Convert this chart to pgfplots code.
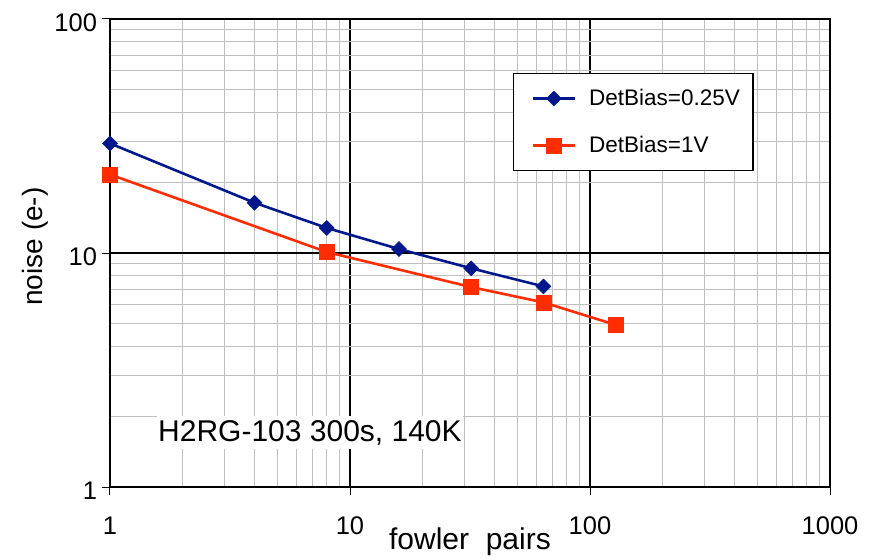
\documentclass[border=0pt]{standalone}
\usepackage{pgfplots}
\pgfplotsset{compat=1.18}
\usepackage{fontspec}
\setmainfont{Liberation Sans}
\definecolor{navyb}{RGB}{0,24,140}
\definecolor{redo}{RGB}{255,45,0}
\begin{document}
\begin{tikzpicture}
\begin{axis}[
  at={(0pt,0pt)}, anchor=south west,
  scale only axis, width=720pt, height=468pt,
  xmode=log, ymode=log,
  xmin=1, xmax=1000, ymin=1, ymax=100,
  xtick={1,10,100,1000}, ytick={1,10,100},
  xticklabels={1,10,100,1000}, yticklabels={1,10,100},
  minor xtick={2,3,4,5,6,7,8,9,20,30,40,50,60,70,80,90,200,300,400,500,600,700,800,900},
  minor ytick={2,3,4,5,6,7,8,9,20,30,40,50,60,70,80,90},
  grid=both,
  major grid style={black, line width=1.3pt},
  minor grid style={black!25, line width=1pt},
  axis line style={line width=2pt},
  tick align=outside,
  tick pos=left,
  major tick length=8pt,
  minor tick length=0pt,
  tick style={black, line width=1pt},
  /pgf/number format/assume math mode=true,
  xticklabel style={font=\fontsize{25.5}{30}\selectfont, anchor=north, yshift=-18pt},
  yticklabel style={font=\fontsize{25.5}{30}\selectfont, anchor=east, yshift=-3.5pt, xshift=-1.5pt},
  xlabel={fowler\ \ pairs},
  ylabel={noise (e-)},
  xlabel style={font=\fontsize{30}{36}\selectfont, at={(axis description cs:0.5,-0.1325)}, anchor=base},
  ylabel style={font=\fontsize{28}{34}\selectfont, at={(axis description cs:-0.0944,0.514)}, anchor=base},
  clip=false,
  legend style={at={(0.5597,0.8846)}, anchor=north west, draw=black, line width=1.2pt,
    font=\fontsize{22.5}{27}\selectfont, inner xsep=13pt, inner ysep=16pt,
    row sep=29pt, column sep=0pt, nodes={inner sep=0pt}},
  legend cell align=left,
  legend image code/.code={
    \path (-5pt,0pt) (55pt,0pt);
    \draw[mark repeat=2, mark phase=2] plot coordinates {(0pt,0pt) (21pt,0pt) (42pt,0pt)};
  },
]
\addplot[navyb, line width=2.6pt, mark=square*, mark size=5.3pt, mark options={rotate=45, solid, line width=0.5pt}]
  coordinates {(1,29.4) (4,16.4) (8,12.8) (16,10.4) (32,8.6) (64,7.2)};
\addlegendentry{DetBias=0.25V}
\addplot[redo, line width=2.6pt, mark=square*, mark size=7.5pt, mark options={solid, line width=0.5pt}]
  coordinates {(1,21.65) (8,10.1) (32,7.15) (64,6.15) (128,4.93)};
\addlegendentry{DetBias=1V}
\node[fill=white, inner xsep=1pt, inner ysep=4.5pt, font=\fontsize{30}{36}\selectfont, anchor=west]
  at (rel axis cs:0.0653,0.1165) {H2RG-103 300s, 140K};
\end{axis}
\path[use as bounding box] (-110pt,-71pt) rectangle (759pt,487pt);
\end{tikzpicture}
\end{document}
